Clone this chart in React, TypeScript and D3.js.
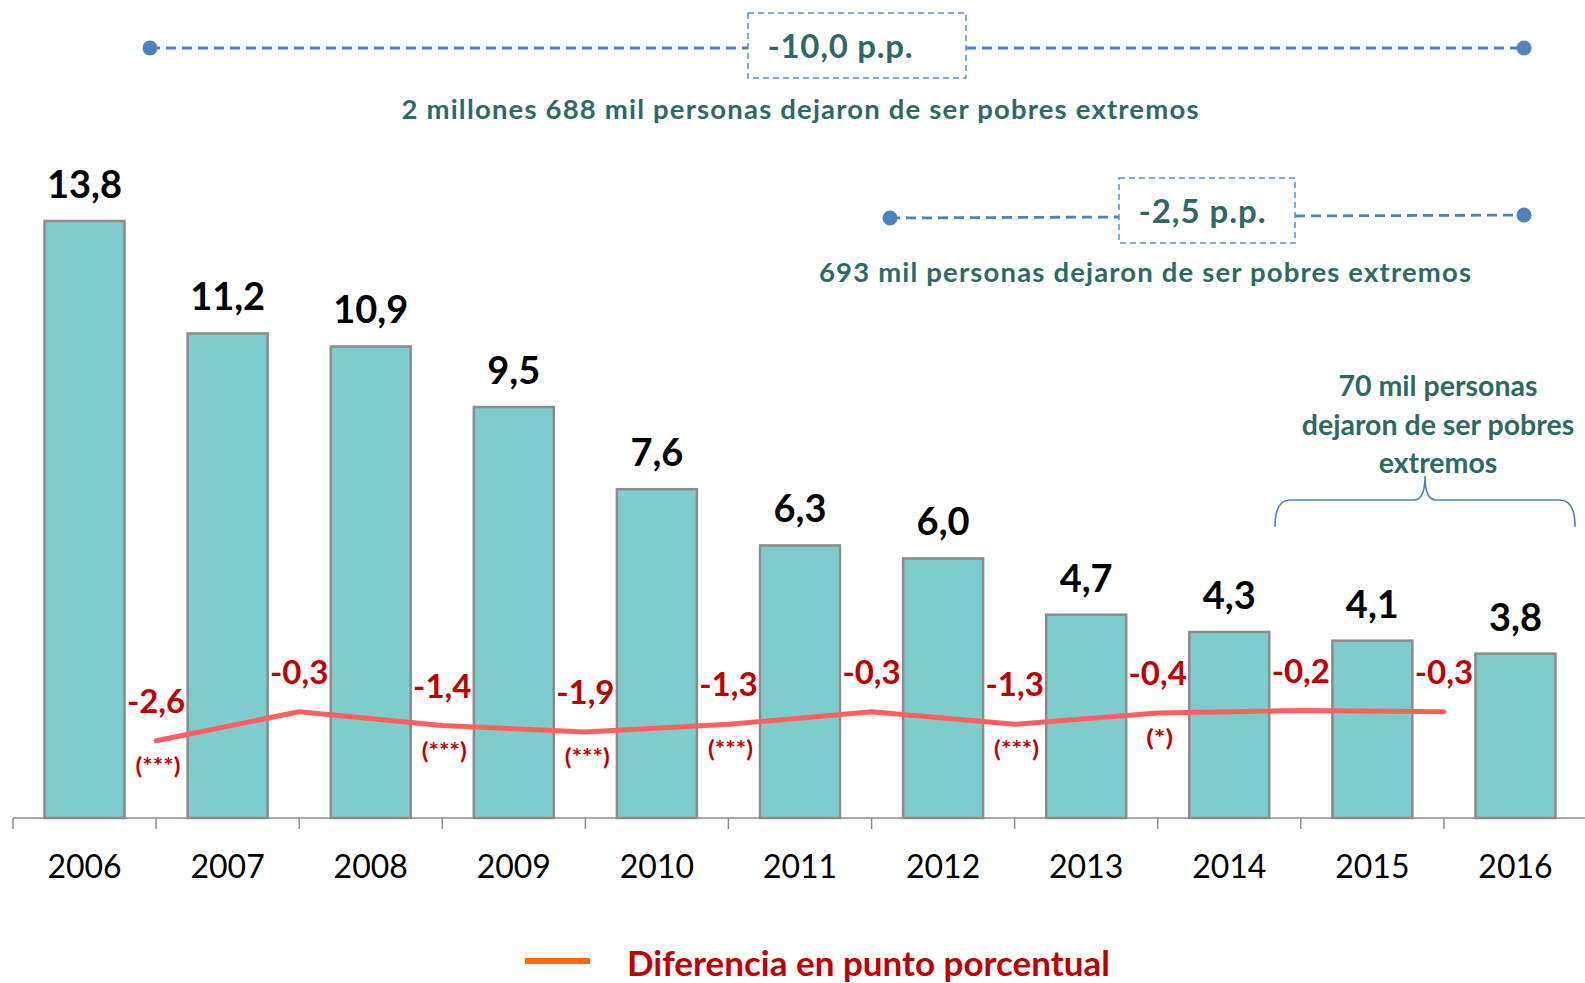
import React from 'react';
import * as d3 from 'd3';

// años de la serie
const years = ['2006', '2007', '2008', '2009', '2010', '2011', '2012', '2013', '2014', '2015', '2016'];
// pobreza extrema (% de la población)
const pobreza = [13.8, 11.2, 10.9, 9.5, 7.6, 6.3, 6.0, 4.7, 4.3, 4.1, 3.8];
// diferencia respecto al año anterior (puntos porcentuales)
const diferencia = [-2.6, -0.3, -1.4, -1.9, -1.3, -0.3, -1.3, -0.4, -0.2, -0.3];
// significancia estadística de cada diferencia
const significancia = ['(***)', '', '(***)', '(***)', '(***)', '', '(***)', '(*)', '', ''];

const W = 1585;
const H = 983;
const FONT = 'Lato, "Open Sans", sans-serif';
const TEAL = '#2F6964';
const RED = '#C00000';
const BLUE = '#4F81BD';
const BOX_BLUE = '#5B8FD6';

const locale = d3.formatLocale({ decimal: ',', thousands: '.', grouping: [3], currency: ['', ''], minus: '-' });
const fmt = locale.format('.1f');

const App = () => {
  const baseY = 818;

  const x = d3.scaleBand()
    .domain(years)
    .range([13, 1587])
    .paddingInner(0.441)
    .paddingOuter(0.2205);

  const y = d3.scaleLinear().domain([0, 13.8]).range([baseY, 221]);
  const yDiff = d3.scaleLinear().domain([0, -2.6]).range([708, 740.7]);

  const step = x.step();
  const half = (step * x.paddingInner()) / 2;
  // punto entre dos barras consecutivas
  const diffX = (i: number) => (x(years[i]) as number) + x.bandwidth() + half;

  const diffPts = diferencia.map((d, i) => [diffX(i), yDiff(d)] as [number, number]);
  const line = d3.line().curve(d3.curveLinear)(diffPts) || '';

  const tickXs = d3.range(years.length + 1).map(k => 13 + k * step);

  return (
    <svg width={W} height={H} style={{ position: 'absolute', left: 0, top: 0, background: '#fff' }} fontFamily={FONT}>
      {/* bracket superior: -10,0 p.p. */}
      <g>
        <line x1={150} y1={48} x2={748} y2={48} stroke={BLUE} strokeWidth={2.8} strokeDasharray="10 6" />
        <line x1={966} y1={48} x2={1524} y2={48} stroke={BLUE} strokeWidth={2.8} strokeDasharray="10 6" />
        <circle cx={150} cy={48} r={7.5} fill={BLUE} />
        <circle cx={1524} cy={48} r={7.5} fill={BLUE} />
        <rect x={748} y={13} width={218} height={65} fill="#fff" stroke={BOX_BLUE} strokeWidth={1.5} strokeDasharray="6 4" />
        <text x={840} y={58} textAnchor="middle" fontSize={33} fontWeight={700} fill={TEAL}
          textLength={145} lengthAdjust="spacing">-10,0 p.p.</text>
        <text x={800} y={119} textAnchor="middle" fontSize={27.5} fontWeight={700} fill={TEAL}
          textLength={797} lengthAdjust="spacing">
          2 millones 688 mil personas dejaron de ser pobres extremos
        </text>
      </g>

      {/* bracket medio: -2,5 p.p. */}
      <g>
        <line x1={890} y1={218} x2={1119} y2={217} stroke={BLUE} strokeWidth={2.8} strokeDasharray="10 6" />
        <line x1={1295} y1={216} x2={1524} y2={215} stroke={BLUE} strokeWidth={2.8} strokeDasharray="10 6" />
        <circle cx={890} cy={218} r={7.5} fill={BLUE} />
        <circle cx={1524} cy={215} r={7.5} fill={BLUE} />
        <rect x={1119} y={178} width={176} height={65} fill="#fff" stroke={BOX_BLUE} strokeWidth={1.5} strokeDasharray="6 4" />
        <text x={1202} y={223} textAnchor="middle" fontSize={33} fontWeight={700} fill={TEAL}
          textLength={127} lengthAdjust="spacing">-2,5 p.p.</text>
        <text x={1145} y={282} textAnchor="middle" fontSize={27.5} fontWeight={700} fill={TEAL}
          textLength={652} lengthAdjust="spacing">
          693 mil personas dejaron de ser pobres extremos
        </text>
      </g>

      {/* llave 2014-2016 */}
      <g>
        <text textAnchor="middle" fontSize={28.5} fontWeight={700} fill={TEAL}>
          <tspan x={1438} y={396}>70 mil personas</tspan>
          <tspan x={1438} y={435}>dejaron de ser pobres</tspan>
          <tspan x={1438} y={473}>extremos</tspan>
        </text>
        <path
          d="M1275,527 Q1275,500 1290,500 L1414,500 Q1425,500 1425,476 Q1425,500 1436,500 L1560,500 Q1575,500 1575,527"
          fill="none" stroke={BLUE} strokeWidth={1.6} />
      </g>

      {/* barras */}
      {pobreza.map((v, i) => (
        <g key={years[i]}>
          <rect x={x(years[i])} y={y(v)} width={x.bandwidth()} height={baseY - y(v)}
            fill="#7FCCCC" stroke="#8C8C8C" strokeWidth={2.5} />
          <text x={(x(years[i]) as number) + x.bandwidth() / 2} y={y(v) - 23} textAnchor="middle"
            fontSize={38} fontWeight={700} fill="#000">{fmt(v)}</text>
        </g>
      ))}

      {/* eje */}
      <line x1={13} y1={baseY} x2={1587} y2={baseY} stroke="#8C8C8C" strokeWidth={1.5} />
      {tickXs.map(t => (
        <line key={t} x1={t} y1={baseY} x2={t} y2={baseY + 11} stroke="#8C8C8C" strokeWidth={1.5} />
      ))}
      {years.map(yr => (
        <text key={yr} x={(x(yr) as number) + x.bandwidth() / 2} y={878} textAnchor="middle"
          fontSize={32} fill="#000">{yr}</text>
      ))}

      {/* línea de diferencias */}
      <path d={line} fill="none" stroke="#FF5F5F" strokeWidth={5} strokeLinejoin="round" strokeLinecap="round" />
      {diffPts.map(([px, py], i) => (
        <g key={i}>
          <text x={px} y={py - 28} textAnchor="middle" fontSize={33} fontWeight={700} fill={RED}>{fmt(diferencia[i])}</text>
          {significancia[i] && (
            <text x={px + 2} y={py + 33} textAnchor="middle" fontSize={22} fontWeight={700} fill={RED}
              textLength={significancia[i].length * 9} lengthAdjust="spacingAndGlyphs">{significancia[i]}</text>
          )}
        </g>
      ))}

      {/* leyenda */}
      <line x1={525} y1={961} x2={590} y2={961} stroke="#FF6A0D" strokeWidth={6} />
      <text x={627} y={976} fontSize={35} fontWeight={700} fill={RED}>Diferencia en punto porcentual</text>
    </svg>
  );
};

export default App;
